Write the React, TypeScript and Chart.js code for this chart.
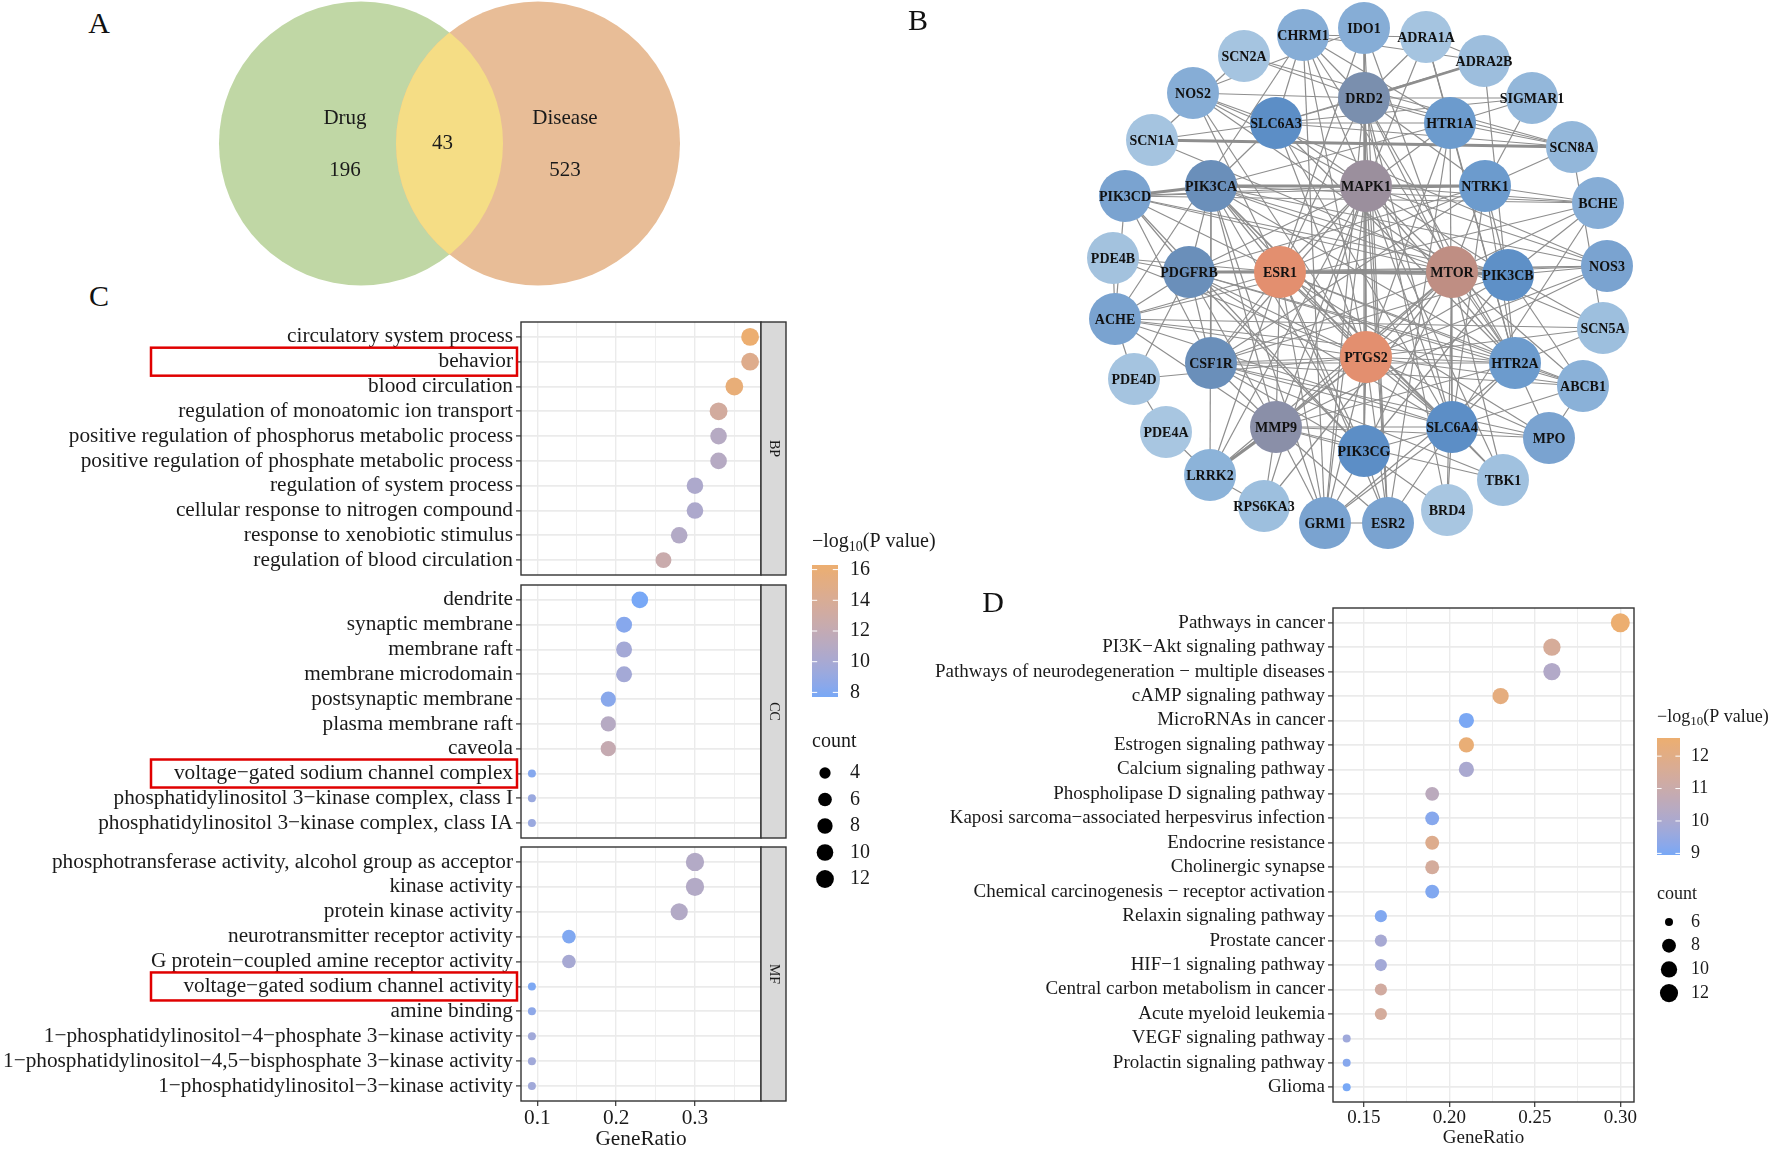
import React, { useEffect, useRef } from "react";
import { Chart, registerables } from "chart.js";
Chart.register(...registerables);

const SERIF = '"Liberation Serif", "Times New Roman", Times, serif';
Chart.defaults.font.family = SERIF;
Chart.defaults.color = "#1a1a1a";

// ---------------- A: Venn ----------------
const vennSets = ["Drug", "Disease"];
const vennOnly = [196, 523];
const vennShared = 43;
const vennColors = ["#C0D7A5", "#E8BD97"];
const vennSharedColor = "#F5DD85";

// ---------------- B: PPI network ----------------
const nodeNames = [
  "CHRM1", "IDO1", "ADRA1A", "SCN2A", "ADRA2B", "NOS2", "DRD2", "SIGMAR1", "SLC6A3", "HTR1A",
  "SCN1A", "SCN8A", "PIK3CA", "MAPK1", "NTRK1", "PIK3CD", "BCHE", "PDE4B", "PDGFRB", "ESR1",
  "MTOR", "PIK3CB", "NOS3", "ACHE", "SCN5A", "CSF1R", "PTGS2", "HTR2A", "PDE4D", "ABCB1",
  "PDE4A", "MMP9", "SLC6A4", "PIK3CG", "MPO", "LRRK2", "TBK1", "RPS6KA3", "BRD4", "GRM1", "ESR2",
];
// layout positions of the network nodes (page pixels)
const nodeLayoutX = [
  1303, 1364, 1426, 1244, 1484, 1193, 1364, 1532, 1276, 1450,
  1152, 1572, 1211, 1366, 1485, 1125, 1598, 1113, 1189, 1280,
  1452, 1508, 1607, 1115, 1603, 1211, 1366, 1515, 1134, 1583,
  1166, 1276, 1452, 1364, 1549, 1210, 1503, 1264, 1447, 1325, 1388,
];
const nodeLayoutY = [
  35, 28, 37, 56, 61, 93, 98, 98, 123, 123,
  140, 147, 186, 186, 186, 196, 203, 258, 272, 272,
  272, 275, 266, 319, 328, 363, 357, 363, 379, 386,
  432, 427, 427, 451, 438, 475, 480, 506, 510, 523, 523,
];
const nodeFill = [
  "#86ADD6", "#86ADD6", "#A5C4E0", "#A5C4E0", "#9DBEDD", "#86ADD6", "#7A8FAE", "#93B7DA", "#5C8EC6", "#6C9BCD",
  "#A5C4E0", "#93B7DA", "#6A8FBA", "#9B8F9D", "#6C9BCD", "#7AA3D0", "#86ADD6", "#A3C2DE", "#6A8FBA", "#E38F6F",
  "#BF8E83", "#5E90C7", "#7AA3D0", "#7AA3D0", "#9DBFDE", "#6A8FBA", "#E38F6F", "#6C9BCD", "#A5C4E0", "#8AB1D8",
  "#A8C6E1", "#8A8FA8", "#5C8EC6", "#5C8EC6", "#7AA3D0", "#8CB3D9", "#A0C1DF", "#9DBFDE", "#A8C6E1", "#7AA3D0", "#7AA3D0",
];
const edgeSpec: Record<string, string> = {
  MAPK1: "PIK3CA NTRK1 PIK3CD ESR1 MTOR PTGS2 MMP9 PDGFRB CSF1R DRD2 IDO1 CHRM1 SLC6A4 PIK3CG GRM1 BCHE HTR2A PIK3CB LRRK2 TBK1 RPS6KA3 ESR2 ADRA1A NOS3 SLC6A3 HTR1A NOS2",
  ESR1: "PDGFRB MTOR PTGS2 MMP9 PIK3CA CSF1R PIK3CB NOS3 ESR2 SLC6A4 PIK3CG HTR2A NTRK1 ABCB1 GRM1 IDO1 PIK3CD ACHE PDE4B NOS2 DRD2 MPO LRRK2",
  MTOR: "PIK3CB PTGS2 PIK3CA PIK3CD PIK3CG PDGFRB MMP9 NTRK1 SLC6A4 CSF1R TBK1 LRRK2 RPS6KA3 HTR2A IDO1 DRD2 NOS3 BCHE NOS2 BRD4 ABCB1",
  PTGS2: "MMP9 PDGFRB CSF1R PIK3CA NOS2 NOS3 MPO ABCB1 IDO1 PIK3CG SLC6A4 HTR2A ACHE PDE4D LRRK2 ESR2 GRM1 SCN5A HTR1A CHRM1 DRD2 PIK3CB PDE4B SLC6A3",
  MMP9: "PDGFRB CSF1R SLC6A4 PIK3CG LRRK2 RPS6KA3 GRM1 MPO NOS3 TBK1 ESR2 PIK3CA HTR2A ACHE",
  DRD2: "ADRA2B SIGMAR1 HTR1A SLC6A3 SCN8A CHRM1 IDO1 NTRK1 HTR2A SLC6A4 SCN2A NOS2 GRM1 ESR2 PIK3CG ADRA1A BRD4",
  SLC6A3: "HTR1A SIGMAR1 SCN8A NOS2 CHRM1 SLC6A4 HTR2A PIK3CA SCN1A ADRA2B",
  HTR1A: "SIGMAR1 SCN8A HTR2A SLC6A4 ADRA1A CHRM1 ESR2 PIK3CA",
  SCN1A: "SCN8A SCN2A SCN5A",
  SCN8A: "SCN2A SCN5A NTRK1",
  PIK3CD: "PIK3CA PIK3CB PIK3CG NTRK1 PDGFRB CSF1R ACHE BCHE",
  PIK3CA: "PIK3CB PIK3CG PDGFRB CSF1R NTRK1 NOS3 SLC6A4 GRM1 HTR2A LRRK2 TBK1 BCHE",
  PDGFRB: "PIK3CB PIK3CG CSF1R NTRK1 ACHE PDE4B PDE4D NOS3 SLC6A4 HTR2A ABCB1",
  CSF1R: "PIK3CG PIK3CB NTRK1 SLC6A4 MPO ABCB1 TBK1 HTR2A",
  NTRK1: "PIK3CB BCHE SIGMAR1 SLC6A4 HTR2A",
  PIK3CB: "NOS3 PIK3CG ABCB1 SCN5A BCHE",
  HTR2A: "SLC6A4 ABCB1 MPO ADRA1A ADRA2B CHRM1 GRM1 ACHE SCN5A",
  SLC6A4: "MPO ABCB1 TBK1 BRD4 ESR2 GRM1 PIK3CG ACHE BCHE",
  PIK3CG: "GRM1 ESR2 BRD4",
  ACHE: "PDE4B PDE4D SCN5A CHRM1 BCHE",
  PDE4D: "PDE4A",
  PDE4A: "LRRK2",
  GRM1: "ESR2",
  NOS2: "NOS3 IDO1",
  CHRM1: "ADRA1A ADRA2B GRM1",
  IDO1: "ESR2",
  ADRA1A: "ADRA2B",
  MPO: "ABCB1",
  LRRK2: "RPS6KA3",
};
const heavyEdges = ["PDGFRB-ESR1", "ESR1-MTOR", "MTOR-PIK3CB", "ADRA2B-DRD2", "MMP9-LRRK2", "PIK3CD-PIK3CA", "PIK3CA-MAPK1", "MAPK1-NTRK1", "SCN1A-SCN8A"];

// ---------------- C: GO enrichment ----------------
const bpTerms = [
  "circulatory system process", "behavior", "blood circulation", "regulation of monoatomic ion transport",
  "positive regulation of phosphorus metabolic process", "positive regulation of phosphate metabolic process",
  "regulation of system process", "cellular response to nitrogen compound", "response to xenobiotic stimulus",
  "regulation of blood circulation",
];
const bpRatio = [0.37, 0.37, 0.35, 0.33, 0.33, 0.33, 0.30, 0.30, 0.28, 0.26];
const bpCount = [12, 12, 12, 12, 10, 10, 10, 10, 10, 9];
const bpLogP = [16.3, 14.6, 15.8, 13.4, 11.0, 11.0, 10.4, 10.4, 10.8, 12.5];

const ccTerms = [
  "dendrite", "synaptic membrane", "membrane raft", "membrane microdomain", "postsynaptic membrane",
  "plasma membrane raft", "caveola", "voltage−gated sodium channel complex",
  "phosphatidylinositol 3−kinase complex, class I", "phosphatidylinositol 3−kinase complex, class IA",
];
const ccRatio = [0.23, 0.21, 0.21, 0.21, 0.19, 0.19, 0.19, 0.093, 0.093, 0.093];
const ccCount = [10, 9, 9, 9, 8, 8, 8, 3, 3, 3];
const ccLogP = [7.7, 8.3, 9.8, 9.8, 8.4, 11.0, 12.2, 8.2, 9.2, 9.2];

const mfTerms = [
  "phosphotransferase activity, alcohol group as acceptor", "kinase activity", "protein kinase activity",
  "neurotransmitter receptor activity", "G protein−coupled amine receptor activity",
  "voltage−gated sodium channel activity", "amine binding",
  "1−phosphatidylinositol−4−phosphate 3−kinase activity",
  "1−phosphatidylinositol−4,5−bisphosphate 3−kinase activity",
  "1−phosphatidylinositol−3−kinase activity",
];
const mfRatio = [0.30, 0.30, 0.28, 0.14, 0.14, 0.093, 0.093, 0.093, 0.093, 0.093];
const mfCount = [13, 13, 11, 6, 6, 3, 3, 3, 3, 3];
const mfLogP = [10.8, 10.8, 10.8, 8.0, 10.0, 7.9, 8.6, 9.6, 9.6, 9.6];

const goStrips = ["BP", "CC", "MF"];
const goColorBreaks = [8, 10, 12, 14, 16];
const goSizeBreaks = [4, 6, 8, 10, 12];
const goXTicks = [0.1, 0.15, 0.2, 0.25, 0.3, 0.35];

// ---------------- D: KEGG enrichment ----------------
const keggTerms = [
  "Pathways in cancer", "PI3K−Akt signaling pathway", "Pathways of neurodegeneration − multiple diseases",
  "cAMP signaling pathway", "MicroRNAs in cancer", "Estrogen signaling pathway", "Calcium signaling pathway",
  "Phospholipase D signaling pathway", "Kaposi sarcoma−associated herpesvirus infection", "Endocrine resistance",
  "Cholinergic synapse", "Chemical carcinogenesis − receptor activation", "Relaxin signaling pathway",
  "Prostate cancer", "HIF−1 signaling pathway", "Central carbon metabolism in cancer", "Acute myeloid leukemia",
  "VEGF signaling pathway", "Prolactin signaling pathway", "Glioma",
];
const keggRatio = [0.30, 0.26, 0.26, 0.23, 0.21, 0.21, 0.21, 0.19, 0.19, 0.19, 0.19, 0.19, 0.16, 0.16, 0.16, 0.16, 0.16, 0.14, 0.14, 0.14];
const keggCount = [13, 11, 11, 10, 9, 9, 9, 8, 8, 8, 8, 8, 7, 7, 7, 7, 7, 6, 6, 6];
const keggLogP = [12.56, 11.5, 10.2, 12.2, 9.0, 12.4, 10.0, 10.5, 9.2, 11.8, 11.4, 9.1, 9.1, 9.9, 9.8, 11.3, 11.4, 9.7, 9.2, 8.95];
const keggColorBreaks = [9, 10, 11, 12];
const keggSizeBreaks = [6, 8, 10, 12];
const keggXTicks = [0.15, 0.175, 0.2, 0.225, 0.25, 0.275, 0.3];

// ---------------- colour helpers (Lab interpolation like ggplot) ----------------
const LOW_COL = "#78A8F6";
const HIGH_COL = "#ECAE70";
function hex2rgb(h: string) {
  const n = parseInt(h.slice(1), 16);
  return [(n >> 16) & 255, (n >> 8) & 255, n & 255];
}
function toLab(rgb: number[]) {
  const lin = rgb.map((c) => {
    c /= 255;
    return c <= 0.04045 ? c / 12.92 : Math.pow((c + 0.055) / 1.055, 2.4);
  });
  const X = (0.4124 * lin[0] + 0.3576 * lin[1] + 0.1805 * lin[2]) / 0.95047;
  const Y = 0.2126 * lin[0] + 0.7152 * lin[1] + 0.0722 * lin[2];
  const Z = (0.0193 * lin[0] + 0.1192 * lin[1] + 0.9505 * lin[2]) / 1.08883;
  const f = (t: number) => (t > 0.008856 ? Math.cbrt(t) : 7.787 * t + 16 / 116);
  return [116 * f(Y) - 16, 500 * (f(X) - f(Y)), 200 * (f(Y) - f(Z))];
}
function fromLab(lab: number[]) {
  const fy = (lab[0] + 16) / 116, fx = fy + lab[1] / 500, fz = fy - lab[2] / 200;
  const inv = (t: number) => (t * t * t > 0.008856 ? t * t * t : (t - 16 / 116) / 7.787);
  const X = inv(fx) * 0.95047, Y = inv(fy), Z = inv(fz) * 1.08883;
  const r = 3.2406 * X - 1.5372 * Y - 0.4986 * Z;
  const g = -0.9689 * X + 1.8758 * Y + 0.0415 * Z;
  const b = 0.0557 * X - 0.204 * Y + 1.057 * Z;
  const enc = (c: number) => {
    const v = c <= 0.0031308 ? 12.92 * c : 1.055 * Math.pow(c, 1 / 2.4) - 0.055;
    return Math.round(Math.min(1, Math.max(0, v)) * 255);
  };
  return `rgb(${enc(r)},${enc(g)},${enc(b)})`;
}
function makeGradient(vmin: number, vmax: number) {
  const a = toLab(hex2rgb(LOW_COL)), b = toLab(hex2rgb(HIGH_COL));
  return (v: number) => {
    const t = Math.min(1, Math.max(0, (v - vmin) / (vmax - vmin)));
    return fromLab(a.map((x, i) => x + (b[i] - x) * t));
  };
}
function makeSize(cmin: number, cmax: number, dmin: number, dmax: number) {
  return (c: number) => dmin + (dmax - dmin) * Math.sqrt(Math.max(0, (c - cmin) / (cmax - cmin)));
}
function expandRange(vals: number[]) {
  const lo = Math.min(...vals), hi = Math.max(...vals);
  const pad = (hi - lo) * 0.05;
  return [lo - pad, hi + pad];
}

// ---------------- shared drawing plugins ----------------
function drawLegends(ctx: CanvasRenderingContext2D, L: any) {
  ctx.save();
  ctx.translate(-L.ox, -L.oy);
  ctx.fillStyle = "#1a1a1a";
  ctx.textBaseline = "middle";
  ctx.textAlign = "left";
  const f = L.font;
  let x = L.x;
  ctx.font = `${f}px ${SERIF}`;
  ctx.fillText("−log", x, L.titleY);
  x += ctx.measureText("−log").width;
  ctx.font = `${Math.round(f * 0.7)}px ${SERIF}`;
  ctx.fillText("10", x, L.titleY + f * 0.28);
  x += ctx.measureText("10").width;
  ctx.font = `${f}px ${SERIF}`;
  ctx.fillText("(P value)", x, L.titleY);
  const g = ctx.createLinearGradient(0, L.barTop, 0, L.barBottom);
  for (let i = 0; i <= 24; i++) {
    const t = i / 24;
    g.addColorStop(t, L.color(L.vmax - t * (L.vmax - L.vmin)));
  }
  ctx.fillStyle = g;
  ctx.fillRect(L.x, L.barTop, L.barW, L.barBottom - L.barTop);
  ctx.strokeStyle = "#ffffff";
  ctx.lineWidth = 1;
  ctx.fillStyle = "#1a1a1a";
  for (const v of L.ticks) {
    const y = L.barBottom - ((v - L.vmin) / (L.vmax - L.vmin)) * (L.barBottom - L.barTop);
    ctx.beginPath();
    ctx.moveTo(L.x, y); ctx.lineTo(L.x + L.barW / 5, y);
    ctx.moveTo(L.x + L.barW, y); ctx.lineTo(L.x + L.barW - L.barW / 5, y);
    ctx.stroke();
    ctx.fillText(String(v), L.labelX, y);
  }
  ctx.fillText("count", L.x, L.countTitleY);
  L.sizes.forEach((c: number, i: number) => {
    const y = L.sizeY0 + i * L.sizeDy;
    ctx.fillStyle = "#000";
    ctx.beginPath();
    ctx.arc(L.dotX, y, L.size(c) / 2, 0, Math.PI * 2);
    ctx.fill();
    ctx.fillStyle = "#1a1a1a";
    ctx.fillText(String(c), L.labelX, y);
  });
  ctx.restore();
}

const decorPlugin = {
  id: "decor",
  afterDraw(chart: any, _args: any, opts: any) {
    const ctx = chart.ctx as CanvasRenderingContext2D;
    const ca = chart.chartArea;
    ctx.save();
    if (opts.boxes && opts.boxes.length) {
      const ys = chart.scales.y;
      ctx.strokeStyle = "#E00000";
      ctx.lineWidth = 2.5;
      for (const r of opts.boxes) {
        const py = ys.getPixelForValue(r);
        ctx.strokeRect(opts.boxLeft, py - 14, opts.boxRight - opts.boxLeft, 28);
      }
    }
    ctx.strokeStyle = "#333";
    ctx.lineWidth = 1.4;
    ctx.strokeRect(ca.left, ca.top, ca.right - ca.left, ca.bottom - ca.top);
    if (opts.strip) {
      ctx.fillStyle = "#D9D9D9";
      ctx.fillRect(ca.right, ca.top, opts.stripW, ca.bottom - ca.top);
      ctx.strokeRect(ca.right, ca.top, opts.stripW, ca.bottom - ca.top);
      ctx.translate(ca.right + opts.stripW / 2, (ca.top + ca.bottom) / 2);
      ctx.rotate(Math.PI / 2);
      ctx.fillStyle = "#1a1a1a";
      ctx.font = `14px ${SERIF}`;
      ctx.textAlign = "center";
      ctx.textBaseline = "middle";
      ctx.fillText(opts.strip, 0, 0);
    }
    ctx.restore();
    if (opts.legend) drawLegends(ctx, opts.legend);
  },
};

function zeroPad(ax: any) {
  ax.paddingTop = 0;
  ax.paddingBottom = 0;
  ax.paddingLeft = 0;
  ax.paddingRight = 0;
}

function dotPlotConfig(o: any) {
  const n = o.terms.length;
  const isMajor = (v: number) => Math.abs(v / o.majorStep - Math.round(v / o.majorStep)) < 1e-6;
  return {
    type: "bubble",
    data: {
      datasets: [
        {
          data: o.terms.map((_: string, i: number) => ({ x: o.ratio[i], y: i, r: o.size(o.count[i]) / 2 })),
          backgroundColor: o.logp.map((v: number) => o.color(v)),
          borderWidth: 0,
          clip: false,
        },
      ],
    },
    options: {
      responsive: false,
      animation: false,
      events: [],
      layout: { padding: { left: 0, top: o.pad.top, right: o.pad.right, bottom: o.pad.bottom }, autoPadding: false },
      plugins: { legend: { display: false }, tooltip: { enabled: false }, decor: o.decor },
      scales: {
        x: {
          type: "linear",
          min: o.xMin,
          max: o.xMax,
          afterBuildTicks: (ax: any) => {
            ax.ticks = o.xTicks.map((v: number) => ({ value: v }));
          },
          afterFit: (ax: any) => {
            ax.height = o.xAxisH;
            zeroPad(ax);
          },
          ticks: {
            display: o.showX,
            autoSkip: false,
            maxRotation: 0,
            padding: 0,
            color: "#1a1a1a",
            font: { size: o.fontSize, family: SERIF },
            callback: (v: number) => (isMajor(v) ? v.toFixed(o.decimals) : ""),
          },
          grid: {
            color: "#EBEBEB",
            lineWidth: (c: any) => (c.tick && isMajor(c.tick.value) ? 1.4 : 0.8),
            drawTicks: o.showX,
            tickLength: 5,
            tickWidth: 1.2,
            tickColor: (c: any) => (c.tick && isMajor(c.tick.value) ? "#333" : "rgba(0,0,0,0)"),
          },
          border: { display: false },
          title: {
            display: o.showX,
            text: "GeneRatio",
            color: "#1a1a1a",
            font: { size: o.fontSize, family: SERIF },
            padding: { top: 0, bottom: 0 },
          },
        },
        y: {
          type: "linear",
          reverse: true,
          min: -0.6,
          max: n - 0.4,
          afterBuildTicks: (ax: any) => {
            ax.ticks = o.terms.map((_: string, i: number) => ({ value: i }));
          },
          afterFit: (ax: any) => {
            ax.width = o.yAxisW;
            zeroPad(ax);
          },
          ticks: {
            autoSkip: false,
            padding: 3,
            color: "#1a1a1a",
            font: { size: o.fontSize, family: SERIF },
            callback: (v: number) => o.terms[Math.round(v)] ?? "",
          },
          grid: { color: "#EBEBEB", lineWidth: 1.8, tickLength: 5, tickWidth: 1.2, tickColor: "#333" },
          border: { display: false },
        },
      },
    },
    plugins: [decorPlugin],
  };
}

// ---------------- network / venn plugins ----------------
const nodeLabelPlugin = {
  id: "nodeLabels",
  afterDatasetsDraw(chart: any) {
    const ctx = chart.ctx as CanvasRenderingContext2D;
    const meta = chart.getDatasetMeta(0);
    ctx.save();
    ctx.font = `bold 14px ${SERIF}`;
    ctx.fillStyle = "#111";
    ctx.textAlign = "center";
    ctx.textBaseline = "middle";
    meta.data.forEach((pt: any, i: number) => ctx.fillText(nodeNames[i], pt.x, pt.y + 1));
    ctx.restore();
  },
};

const VENN_R = 142;
const vennLayout = { cx: [361, 538], cy: 143.5, labelDx: [-16, 27], nameDy: -25, numDy: 27, sharedDx: -7 };

const vennPlugin = {
  id: "vennDecor",
  afterDatasetsDraw(chart: any) {
    const ctx = chart.ctx as CanvasRenderingContext2D;
    const pts = chart.getDatasetMeta(0).data;
    const [p0, p1] = pts;
    ctx.save();
    ctx.beginPath();
    ctx.arc(p0.x, p0.y, VENN_R, 0, Math.PI * 2);
    ctx.clip();
    ctx.beginPath();
    ctx.arc(p1.x, p1.y, VENN_R, 0, Math.PI * 2);
    ctx.fillStyle = vennSharedColor;
    ctx.fill();
    ctx.restore();
    ctx.save();
    ctx.font = `21px ${SERIF}`;
    ctx.fillStyle = "#1a1a1a";
    ctx.textAlign = "center";
    ctx.textBaseline = "middle";
    pts.forEach((p: any, i: number) => {
      ctx.fillText(vennSets[i], p.x + vennLayout.labelDx[i], p.y + vennLayout.nameDy);
      ctx.fillText(String(vennOnly[i]), p.x + vennLayout.labelDx[i], p.y + vennLayout.numDy);
    });
    ctx.fillText(String(vennShared), (p0.x + p1.x) / 2 + vennLayout.sharedDx, p0.y);
    ctx.restore();
  },
};

// ---------------- generic canvas component ----------------
function ChartBox({ left, top, width, height, make }: any) {
  const ref = useRef<HTMLCanvasElement>(null);
  useEffect(() => {
    const chart = new Chart(ref.current as HTMLCanvasElement, make());
    return () => chart.destroy();
  }, []);
  return (
    <div style={{ position: "absolute", left, top, width, height }}>
      <canvas ref={ref} width={width} height={height} style={{ width, height, display: "block" }} />
    </div>
  );
}

function vennConfig() {
  return {
    type: "scatter",
    data: {
      datasets: [
        {
          data: vennLayout.cx.map((x) => ({ x, y: vennLayout.cy })),
          pointRadius: VENN_R,
          pointHoverRadius: VENN_R,
          backgroundColor: vennColors,
          borderWidth: 0,
          clip: false,
        },
      ],
    },
    options: {
      responsive: false,
      animation: false,
      events: [],
      layout: { padding: 0, autoPadding: false },
      plugins: { legend: { display: false }, tooltip: { enabled: false } },
      scales: {
        x: { type: "linear", display: false, min: 180, max: 720 },
        y: { type: "linear", display: false, min: 0, max: 300, reverse: true },
      },
    },
    plugins: [vennPlugin],
  };
}

function networkConfig() {
  const idx: Record<string, number> = {};
  nodeNames.forEach((n, i) => (idx[n] = i));
  const seen = new Set<string>();
  const edges: [number, number, number][] = [];
  const heavy = new Set(heavyEdges.map((e) => e.split("-").sort().join("|")));
  Object.keys(edgeSpec).forEach((a) => {
    edgeSpec[a].split(" ").filter(Boolean).forEach((b) => {
      if (idx[a] === undefined || idx[b] === undefined) return;
      const key = [a, b].sort().join("|");
      if (seen.has(key)) return;
      seen.add(key);
      edges.push([idx[a], idx[b], heavy.has(key) ? 2.8 : 1.2]);
    });
  });
  heavy.forEach((key) => {
    if (!seen.has(key)) {
      const [a, b] = key.split("|");
      edges.push([idx[a], idx[b], 2.8]);
    }
  });
  const pt = (i: number) => ({ x: nodeLayoutX[i], y: nodeLayoutY[i] });
  return {
    type: "scatter",
    data: {
      datasets: [
        {
          data: nodeNames.map((_, i) => pt(i)),
          pointRadius: 26,
          pointHoverRadius: 26,
          backgroundColor: nodeFill,
          borderWidth: 0,
          order: 0,
          clip: false,
        },
        ...edges.map(([a, b, w]) => ({
          data: [pt(a), pt(b)],
          showLine: true,
          borderColor: "#8E8E8E",
          borderWidth: w,
          pointRadius: 0,
          pointHoverRadius: 0,
          order: 1,
          clip: false,
        })),
      ],
    },
    options: {
      responsive: false,
      animation: false,
      events: [],
      layout: { padding: 0, autoPadding: false },
      plugins: { legend: { display: false }, tooltip: { enabled: false } },
      scales: {
        x: { type: "linear", display: false, min: 880, max: 1772 },
        y: { type: "linear", display: false, min: 0, max: 565, reverse: true },
      },
    },
    plugins: [nodeLabelPlugin],
  };
}

// ---------------- GO panel configs ----------------
const goAll = [...bpLogP, ...ccLogP, ...mfLogP];
const goColor = makeGradient(Math.min(...goAll), Math.max(...goAll));
const goCounts = [...bpCount, ...ccCount, ...mfCount];
const goSize = makeSize(Math.min(...goCounts), Math.max(...goCounts), 8, 18.3);
const [goXMin, goXMax] = expandRange([...bpRatio, ...ccRatio, ...mfRatio]);
const GO_FONT = 21.3;

function goPanel(terms: string[], ratio: number[], count: number[], logp: number[], strip: string, extra: any) {
  return dotPlotConfig({
    terms, ratio, count, logp,
    xMin: goXMin, xMax: goXMax, xTicks: goXTicks, majorStep: 0.1, decimals: 1,
    color: goColor, size: goSize, fontSize: GO_FONT, yAxisW: 521,
    xAxisH: extra.xAxisH, showX: extra.showX, pad: extra.pad,
    decor: { strip, stripW: 25, boxes: extra.boxes, boxLeft: 151, boxRight: 517, legend: extra.legend },
  });
}

const keggColor = makeGradient(Math.min(...keggLogP), Math.max(...keggLogP));
const keggSize = makeSize(Math.min(...keggCount), Math.max(...keggCount), 8, 19);
const [keggXMin, keggXMax] = expandRange(keggRatio);

const letterStyle = (x: number, y: number): React.CSSProperties => ({
  position: "absolute", left: x, top: y, transform: "translate(-50%, -50%)",
  fontFamily: SERIF, fontSize: 30, color: "#111", lineHeight: 1,
});

export default function App() {
  return (
    <div style={{ position: "absolute", left: 0, top: 0, width: 1772, height: 1149, background: "#fff", overflow: "hidden" }}>
      <ChartBox left={180} top={0} width={540} height={300} make={vennConfig} />
      <ChartBox left={880} top={0} width={892} height={565} make={networkConfig} />
      <ChartBox
        left={0} top={312} width={800} height={273}
        make={() => goPanel(bpTerms, bpRatio, bpCount, bpLogP, goStrips[0], { xAxisH: 0, showX: false, pad: { top: 10, right: 39, bottom: 10 }, boxes: [1] })}
      />
      <ChartBox
        left={0} top={837} width={800} height={315}
        make={() => goPanel(mfTerms, mfRatio, mfCount, mfLogP, goStrips[2], { xAxisH: 51, showX: true, pad: { top: 10, right: 39, bottom: 0 }, boxes: [5] })}
      />
      <ChartBox
        left={0} top={520} width={960} height={380}
        make={() =>
          goPanel(ccTerms, ccRatio, ccCount, ccLogP, goStrips[1], {
            xAxisH: 0, showX: false, pad: { top: 65, right: 199, bottom: 62 }, boxes: [7],
            legend: {
              ox: 0, oy: 520, font: 20, x: 812, titleY: 542, barTop: 565, barBottom: 697, barW: 26,
              vmin: Math.min(...goAll), vmax: Math.max(...goAll), color: goColor, ticks: goColorBreaks,
              labelX: 850, countTitleY: 742, dotX: 825, sizeY0: 773, sizeDy: 26.5, sizes: goSizeBreaks, size: goSize,
            },
          })
        }
      />
      <ChartBox
        left={880} top={580} width={892} height={569}
        make={() =>
          dotPlotConfig({
            terms: keggTerms, ratio: keggRatio, count: keggCount, logp: keggLogP,
            xMin: keggXMin, xMax: keggXMax, xTicks: keggXTicks, majorStep: 0.05, decimals: 2,
            color: keggColor, size: keggSize, fontSize: 19, yAxisW: 453, xAxisH: 47, showX: true,
            pad: { top: 28, right: 138, bottom: 0 },
            decor: {
              legend: {
                ox: 880, oy: 580, font: 18, x: 1657, titleY: 717, barTop: 738, barBottom: 855, barW: 23,
                vmin: Math.min(...keggLogP), vmax: Math.max(...keggLogP), color: keggColor, ticks: keggColorBreaks,
                labelX: 1691, countTitleY: 894, dotX: 1669, sizeY0: 922, sizeDy: 23.7, sizes: keggSizeBreaks, size: keggSize,
              },
            },
          })
        }
      />
      <div style={letterStyle(99, 23)}>A</div>
      <div style={letterStyle(918, 20)}>B</div>
      <div style={letterStyle(99, 296)}>C</div>
      <div style={letterStyle(993, 602)}>D</div>
    </div>
  );
}
